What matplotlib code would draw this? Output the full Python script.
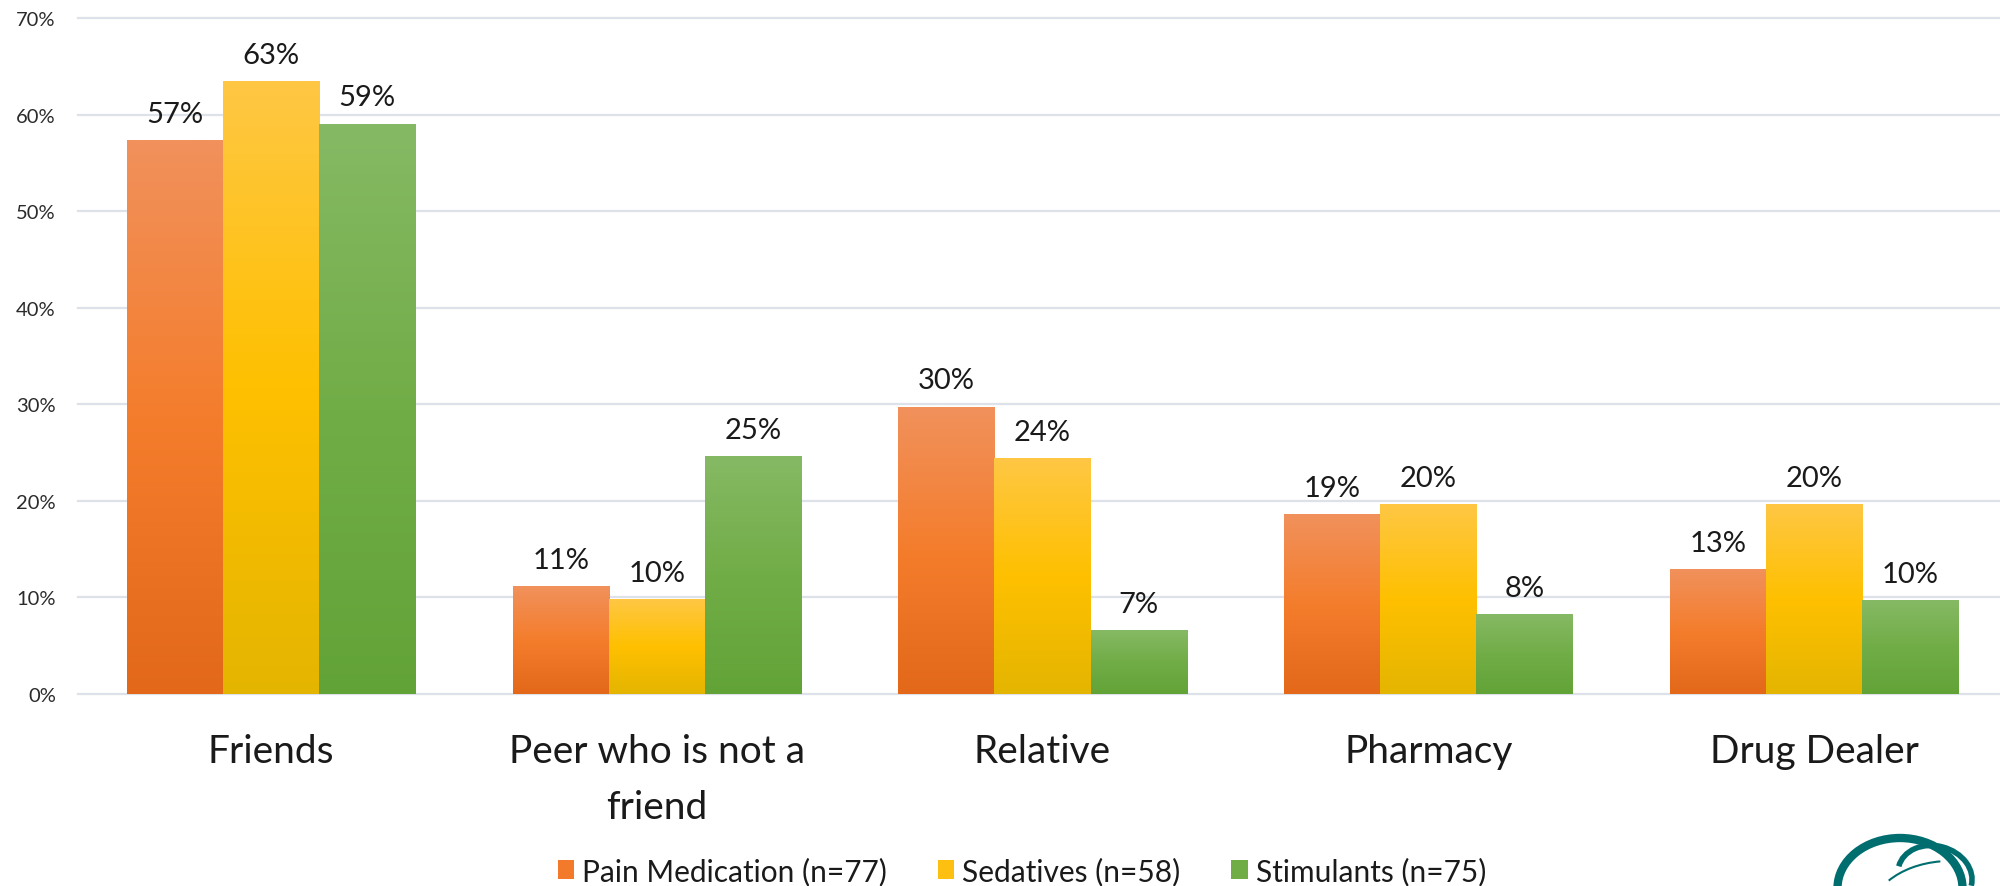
import numpy as np
import matplotlib
matplotlib.use('Agg')
import matplotlib.pyplot as plt
from matplotlib.colors import LinearSegmentedColormap
from matplotlib.patches import Patch, Arc
from matplotlib.transforms import IdentityTransform

# ---------------- data ----------------
categories = ['Friends', 'Peer who is not a\nfriend', 'Relative', 'Pharmacy', 'Drug Dealer']
series_names = ['Pain Medication (n=77)', 'Sedatives (n=58)', 'Stimulants (n=75)']
pain = [57.3, 11.1, 29.7, 18.6, 12.9]
sedatives = [63.4, 9.8, 24.4, 19.6, 19.6]
stimulants = [59.0, 24.6, 6.6, 8.2, 9.7]
y_ticks = [0, 10, 20, 30, 40, 50, 60, 70]
y_tick_labels = ['0%', '10%', '20%', '30%', '40%', '50%', '60%', '70%']

# gradient colours (bottom, middle, top)
grad_colors = [
    ['#E3681A', '#F47D2C', '#F1915C'],
    ['#E4B500', '#FFC000', '#FEC744'],
    ['#62A337', '#71AD47', '#86B964'],
]
mid_colors = ['#F27A2A', '#FDC010', '#70AD47']

FONT = 'Lato'
plt.rcParams['font.family'] = [FONT, 'DejaVu Sans']

W, H = 2000, 887
fig = plt.figure(figsize=(W / 100, H / 100), dpi=100)
ax = fig.add_axes([78 / W, (H - 695) / H, (2007 - 78) / W, (695 - 19) / H])

x = np.arange(len(categories))
bw = 0.249
all_series = [pain, sedatives, stimulants]
grad = np.linspace(0, 1, 256).reshape(-1, 1)

for i, vals in enumerate(all_series):
    cmap = LinearSegmentedColormap.from_list(f'g{i}', grad_colors[i])
    bars = ax.bar(x + (i - 1) * bw, vals, bw, color='none', edgecolor='none', zorder=2)
    for rect, v in zip(bars, vals):
        x0 = rect.get_x()
        ax.imshow(grad, extent=(x0, x0 + rect.get_width(), 0, v), origin='lower',
                  aspect='auto', cmap=cmap, interpolation='bilinear', zorder=2)
        ax.annotate(f'{v:.0f}%', (x0 + rect.get_width() / 2, v), xytext=(0, 13.5),
                    textcoords='offset points', ha='center', va='baseline',
                    fontsize=21, color='#1a1a1a')

ax.set_xlim(-0.5, len(categories) - 0.5)
ax.set_ylim(0, 70)
ax.set_yticks(y_ticks, y_tick_labels)
ax.set_xticks(x, categories)
ax.tick_params(axis='y', length=0, pad=16, labelsize=14.5, labelcolor='#2b2b2b')
ax.tick_params(axis='x', length=0, pad=28, labelsize=28, labelcolor='#1a1a1a')
for lab in ax.get_xticklabels():
    lab.set_linespacing(1.68)
for s in ax.spines.values():
    s.set_visible(False)
ax.set_axisbelow(True)
ax.yaxis.grid(True, color='#DDE2EA', lw=1.6)
for gl in ax.get_ygridlines():
    gl.set_clip_on(False)
ax.xaxis.grid(False)

handles = [Patch(facecolor=c, edgecolor='none') for c in mid_colors]
fig.legend(handles, series_names, loc='center', ncol=3,
           bbox_to_anchor=(1022 / W, 1 - 872 / H), frameon=False,
           fontsize=21.5, handlelength=0.55, handleheight=0.62, handletextpad=0.27,
           columnspacing=1.7, labelcolor='#1a1a1a')

# decorative logo fragment (bottom right)
teal = '#006D6F'
fig.add_artist(Arc((1900, -2), 125, 100, theta1=0, theta2=180, color=teal, lw=6,
                   transform=IdentityTransform()))
fig.add_artist(Arc((1935, 10), 75, 60, angle=-15, theta1=0, theta2=180, color=teal, lw=4,
                   transform=IdentityTransform()))
fig.add_artist(Arc((1950, -30), 160, 110, angle=0, theta1=100, theta2=150, color=teal, lw=1.5,
                   transform=IdentityTransform()))

fig.savefig('out.png', dpi=100, facecolor='white')
